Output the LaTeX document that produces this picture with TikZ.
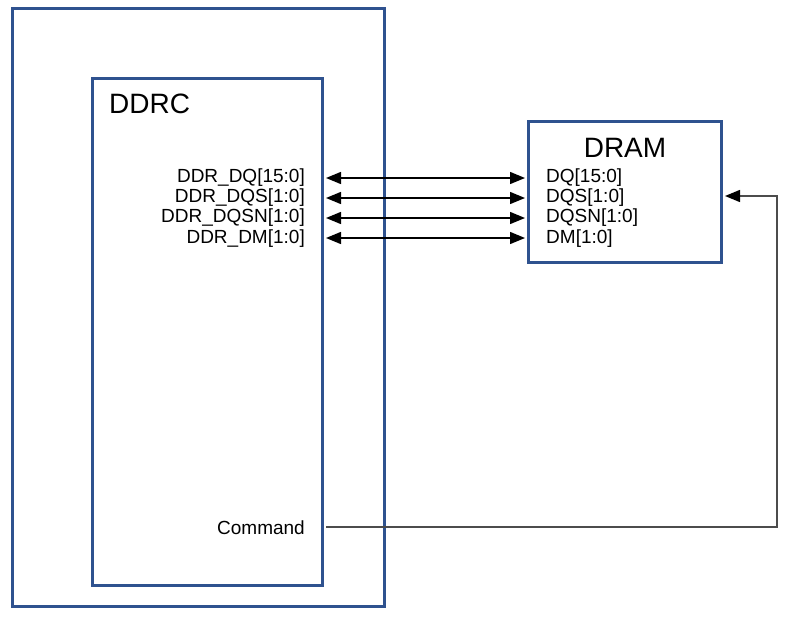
\documentclass[tikz,border=0pt]{standalone}
\usepackage{fontspec}
\setmainfont{Liberation Sans}
\usetikzlibrary{arrows.meta}

\definecolor{boxblue}{RGB}{47,82,143}
\tikzset{
  blk/.style={draw=boxblue,line width=3pt},
  sig/.style={inner sep=0pt,font=\fontsize{19}{20}\selectfont},
  big/.style={inner sep=0pt,font=\fontsize{28}{30}\selectfont},
  bus/.style={{Triangle[length=15pt,width=12pt]}-{Triangle[length=15pt,width=12pt]},line width=1.4pt},
}

\begin{document}
\begin{tikzpicture}[x=1pt,y=-1pt]
  \useasboundingbox (0,0) rectangle (789,621);

  \draw[blk] (12,8) rectangle (384,606);
  \draw[blk] (92,78) rectangle (322,585);
  \draw[blk] (528,121) rectangle (721,262);

  \node[big,anchor=west] (ddrc) at (109,104){DDRC};
  \node[big] (dram) at (625,148){DRAM};

  \node[sig,anchor=east] (cdq) at (305,178){DDR\_DQ[15:0]};
  \node[sig,anchor=east] (cdqs) at (305,198){DDR\_DQS[1:0]};
  \node[sig,anchor=east] (cdqsn) at (305,218){DDR\_DQSN[1:0]};
  \node[sig,anchor=east] (cdm) at (305,239){DDR\_DM[1:0]};
  \node[sig,anchor=east] (ccmd) at (305,528){Command};

  \node[sig,anchor=west] (mdq) at (546,178){DQ[15:0]};
  \node[sig,anchor=west] (mdqs) at (546,198){DQS[1:0]};
  \node[sig,anchor=west] (mdqsn) at (546,218){DQSN[1:0]};
  \node[sig,anchor=west] (mdm) at (546,239){DM[1:0]};

  \coordinate (a0) at (326,178);
  \coordinate (a1) at (326,198);
  \coordinate (a2) at (326,218);
  \coordinate (a3) at (326,238);
  \coordinate (b0) at (525,178);
  \coordinate (b1) at (525,198);
  \coordinate (b2) at (525,218);
  \coordinate (b3) at (525,238);

  \draw[bus] (a0) -- (b0);
  \draw[bus] (a1) -- (b1);
  \draw[bus] (a2) -- (b2);
  \draw[bus] (a3) -- (b3);

  \coordinate (cmd0) at (326,527);
  \coordinate (cmd1) at (777,527);
  \coordinate (cmd2) at (777,196);
  \coordinate (cmd3) at (725,196);
  \draw[-{Triangle[length=15pt,width=12pt,color=black]},line width=1.4pt,draw=black!70]
    (cmd0) -- (cmd1) -- (cmd2) -- (cmd3);
\end{tikzpicture}
\end{document}
